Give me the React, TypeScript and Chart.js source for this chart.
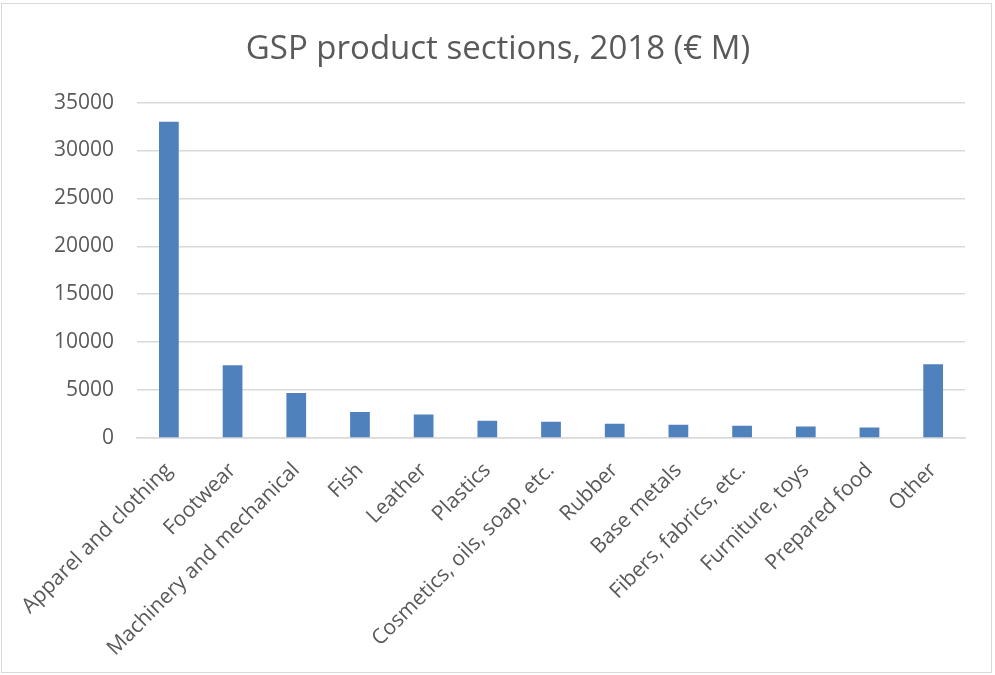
import React, { useEffect, useRef } from "react";
import { Chart, registerables } from "chart.js";

Chart.register(...registerables);

const categories = [
  "Apparel and clothing",
  "Footwear",
  "Machinery and mechanical",
  "Fish",
  "Leather",
  "Plastics",
  "Cosmetics, oils, soap, etc.",
  "Rubber",
  "Base metals",
  "Fibers, fabrics, etc.",
  "Furniture, toys",
  "Prepared food",
  "Other",
];

const values = [33000, 7600, 4700, 2700, 2450, 1800, 1700, 1480, 1370, 1270, 1200, 1100, 7700];

const titleText = "GSP product sections, 2018 (€ M)";

export default function App() {
  const ref = useRef<HTMLCanvasElement>(null);
  useEffect(() => {
    if (!ref.current) return;
    const chart = new Chart(ref.current, {
      type: "bar",
      data: {
        labels: categories,
        datasets: [
          {
            data: values,
            backgroundColor: "#4F81BD",
            borderColor: "#4F81BD",
            borderWidth: 0,
            barPercentage: 0.31,
            categoryPercentage: 1,
          },
        ],
      },
      options: {
        animation: false,
        responsive: false,
        maintainAspectRatio: false,
        layout: { padding: { left: 31, right: 30, top: 0, bottom: 2 } },
        plugins: {
          legend: { display: false },
          tooltip: { enabled: false },
          title: {
            display: true,
            text: titleText,
            color: "#595959",
            font: { family: "Open Sans", size: 33, weight: "normal" },
            padding: { top: 30, bottom: 33 },
          },
        },
        scales: {
          x: {
            grid: { display: false },
            border: { display: true, color: "#d9d9d9", width: 1.5 },
            ticks: {
              color: "#595959",
              font: { family: "Open Sans", size: 21 },
              maxRotation: 45,
              minRotation: 45,
              autoSkip: false,
              padding: 12,
            },
          },
          y: {
            min: 0,
            max: 35000,
            grid: { color: "#d9d9d9", lineWidth: 1.5, drawTicks: false },
            border: { display: false },
            ticks: {
              stepSize: 5000,
              color: "#595959",
              font: { family: "Open Sans", size: 21 },
              padding: 23,
              callback: (v) => String(v),
            },
          },
        },
      },
    });
    return () => chart.destroy();
  }, []);
  return (
    <div
      style={{
        position: "fixed",
        left: 0,
        top: 0,
        width: 995,
        height: 675,
        background: "#fff",
      }}
    >
      <div
        style={{
          position: "absolute",
          left: 1,
          top: 3,
          width: 991,
          height: 670,
          border: "1px solid #d9d9d9",
          boxSizing: "border-box",
        }}
      />
      <canvas ref={ref} width={995} height={675} style={{ position: "absolute", left: 0, top: 0 }} />
    </div>
  );
}
